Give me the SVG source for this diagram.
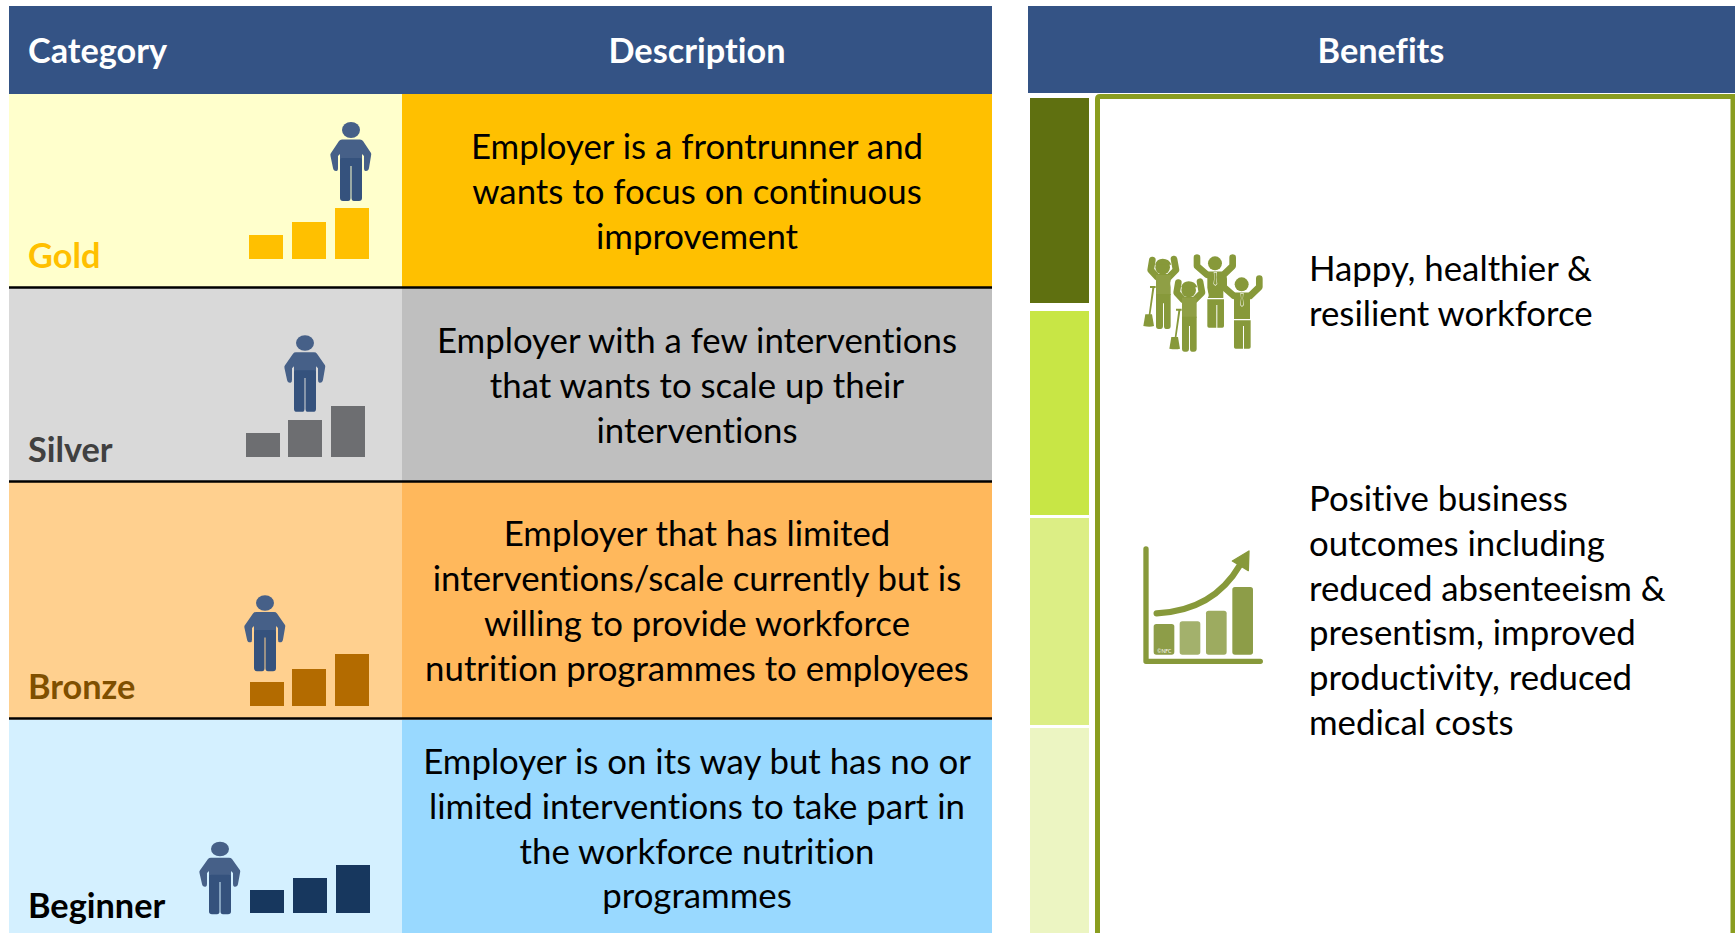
<svg xmlns="http://www.w3.org/2000/svg" width="1735" height="933" viewBox="0 0 1735 933">
<style>
text{font-family:"Lato","Carlito","Liberation Sans",sans-serif;font-variant-ligatures:none}
.h{font-size:34.300px;font-weight:700;fill:#fff}
.c{font-size:34.300px;font-weight:700}
.d{font-size:34.800px;fill:#000;text-anchor:middle}
.b{font-size:34.800px;fill:#000}
.m{text-anchor:middle}
.line{stroke:#000;stroke-width:2.400}
.arm{fill:none;stroke:#87993a;stroke-width:20;stroke-linecap:round;stroke-linejoin:round}
.ol{fill:none;stroke:#fff;stroke-width:28;stroke-linecap:round;stroke-linejoin:round}
.gf{fill:#87993a}
</style>
<defs>
<g id="person">
<ellipse cx="0" cy="0" rx="9" ry="8" fill="#466088"/>
<path d="M-9 9.500H9Q11 9.500 12 11L20 23Q20.500 24 20 26L18 38Q17.500 41 15 41H14.500Q13 41 13 38V26L11 24V30H-11V24L-13 26V38Q-13 41 -14.500 41H-15Q-17.500 41 -18 38L-20.500 26Q-21 24 -20 23L-12 11Q-11 9.500 -9 9.500Z" fill="#466088"/>
<path d="M-11 30Q-11 28 -9 28H9Q11 28 11 30V68Q11 71 8 71H3Q0.500 71 0.500 68V36H-0.500V68Q-0.500 71 -3 71H-8Q-11 71 -11 68Z" fill="#35527d"/>
</g>
<g id="worker">
<circle cx="188" cy="142" r="22" class="gf"/>
<path d="M165 134Q170 116 188 116Q208 116 214 134Z" class="gf"/>
<path d="M157 120L152 150L172 172H206L228 150L222 117" class="arm"/>
<rect x="168" y="165" width="44" height="60" fill="#8f9f45"/>
<path d="M168 222H212V318Q212 327 204 327H198Q192 327 192 318V250H189V318Q189 327 181 327H176Q168 327 168 318Z" class="gf"/>
<path d="M150 198H167V204H163L151 286L146 285L157 204H150Z" class="gf"/>
<path d="M136 283H156L162 318Q150 322 130 318Z" class="gf"/>
</g>
<g id="suit">
<circle cx="345" cy="130" r="21" class="gf"/>
<path d="M291 113V138L322 165H370L398 138V113" class="arm"/>
<path d="M322 155H370V234H322Z" class="gf"/>
<path d="M322 238H372V318Q372 323 367 323H352V255H349V323H327Q322 323 322 318Z" class="gf"/>
<path d="M341 156H351L349 172L352 192L346 198L340 192L343 172Z" fill="#fff" opacity=".85"/>
<path d="M343 158H349L348 172L350 191L346 195L342 191L344 172Z" class="gf"/>
</g>
</defs>

<g id="connectors"></g>

<g id="header-main">
<rect x="9" y="6" width="983" height="88" fill="#345385"/>
<text x="28" y="63" class="h">Category</text>
<text x="697" y="63" class="h m">Description</text>
</g>
<g id="header-benefits">
<rect x="1028" y="6" width="707" height="87" fill="#345385"/>
<text x="1381" y="63" class="h m">Benefits</text>
</g>

<g id="row-gold">
<rect x="9" y="94" width="393" height="193" fill="#ffffcc"/>
<rect x="402" y="94" width="590" height="193" fill="#ffc000"/>
<use href="#person" transform="translate(351 130)"/>
<rect x="249" y="235" width="34" height="24" fill="#ffc000"/>
<rect x="292" y="222" width="34" height="37" fill="#ffc000"/>
<rect x="335" y="208" width="34" height="51" fill="#ffc000"/>
<text x="28" y="268" class="c" fill="#ffc000">Gold</text>
<text x="697" y="159" class="d">Employer is a frontrunner and</text>
<text x="697" y="204" class="d">wants to focus on continuous</text>
<text x="697" y="249" class="d">improvement</text>
</g>
<g id="row-silver">
<rect x="9" y="288" width="393" height="193" fill="#d9d9d9"/>
<rect x="402" y="288" width="590" height="193" fill="#bfbfbf"/>
<use href="#person" transform="translate(305 343) scale(1 .97)"/>
<rect x="246" y="433" width="34" height="24" fill="#6d6e71"/>
<rect x="288" y="420" width="34" height="37" fill="#6d6e71"/>
<rect x="331" y="406" width="34" height="51" fill="#6d6e71"/>
<text x="28" y="462" class="c" fill="#404040">Silver</text>
<text x="697" y="353" class="d">Employer with a few interventions</text>
<text x="697" y="398" class="d">that wants to scale up their</text>
<text x="697" y="443" class="d">interventions</text>
</g>
<g id="row-bronze">
<rect x="9" y="482" width="393" height="236" fill="#ffd08f"/>
<rect x="402" y="482" width="590" height="236" fill="#ffb85c"/>
<use href="#person" transform="translate(265 603) scale(1 .96)"/>
<rect x="250" y="682" width="34" height="24" fill="#b36b00"/>
<rect x="292" y="669" width="34" height="37" fill="#b36b00"/>
<rect x="335" y="654" width="34" height="52" fill="#b36b00"/>
<text x="28" y="699" class="c" fill="#7f4f00">Bronze</text>
<text x="697" y="546" class="d">Employer that has limited</text>
<text x="697" y="591" class="d">interventions/scale currently but is</text>
<text x="697" y="636" class="d">willing to provide workforce</text>
<text x="697" y="681" class="d">nutrition programmes to employees</text>
</g>
<g id="row-beginner">
<rect x="9" y="720" width="393" height="213" fill="#d4f0ff"/>
<rect x="402" y="720" width="590" height="213" fill="#99d9ff"/>
<use href="#person" transform="translate(220 849) scale(1 .92)"/>
<rect x="250" y="890" width="34" height="23" fill="#17375e"/>
<rect x="293" y="878" width="34" height="35" fill="#17375e"/>
<rect x="336" y="865" width="34" height="48" fill="#17375e"/>
<text x="28" y="918" class="c" fill="#000">Beginner</text>
<text x="697" y="774" class="d">Employer is on its way but has no or</text>
<text x="697" y="819" class="d">limited interventions to take part in</text>
<text x="697" y="864" class="d">the workforce nutrition</text>
<text x="697" y="908" class="d">programmes</text>
</g>
<g id="row-lines">
<line x1="9" y1="287.500" x2="992" y2="287.500" class="line"/>
<line x1="9" y1="481.500" x2="992" y2="481.500" class="line"/>
<line x1="9" y1="718.500" x2="992" y2="718.500" class="line"/>
</g>

<g id="benefit-scale">
<rect x="1030" y="98" width="59" height="205" fill="#5f7010"/>
<rect x="1030" y="311" width="59" height="204" fill="#c8e645"/>
<rect x="1030" y="518" width="59" height="207" fill="#dcee85"/>
<rect x="1030" y="728" width="59" height="205" fill="#ecf5c2"/>
</g>
<g id="benefit-panel">
<path d="M1097.500 945V99Q1097.500 96.500 1100 96.500H1740" fill="none" stroke="#8a9d1f" stroke-width="5"/>
<path d="M1733 96.500V945" fill="none" stroke="#8a9d1f" stroke-width="5"/>
</g>
<g id="icon-people" transform="translate(1100 220) scale(.3333)">
<use href="#worker"/>
<use href="#suit"/>
<use href="#suit" transform="translate(80 63)"/>
<path d="M225 190L232 225L250 240H290L312 225L303 188" class="ol"/>
<use href="#worker" transform="translate(78 68)"/>
</g>
<g id="icon-chart" transform="translate(1100 520) scale(.3333)">
<path d="M138 87V424H481" fill="none" stroke="#87993a" stroke-width="16" stroke-linecap="round" stroke-linejoin="round"/>
<rect x="161" y="312" width="62" height="92" rx="8" fill="#8d9d48"/>
<rect x="239" y="304" width="62" height="100" rx="8" fill="#a3b16c"/>
<rect x="318" y="272" width="62" height="132" rx="8" fill="#9dab60"/>
<rect x="397" y="201" width="62" height="203" rx="8" fill="#8d9d48"/>
<path d="M170 280Q340 272 420 135" fill="none" stroke="#87993a" stroke-width="19" stroke-linecap="round"/>
<path d="M447 93L397 123L445 152Z" fill="#87993a" stroke="#87993a" stroke-width="4" stroke-linejoin="round"/>
<text x="193" y="399" font-size="15" fill="#fff" class="m">©NFC</text>
</g>
<g id="benefit-text">
<text x="1309" y="281" class="b">Happy, healthier &amp;</text>
<text x="1309" y="326" class="b">resilient workforce</text>
<text x="1309" y="511" class="b">Positive business</text>
<text x="1309" y="556" class="b">outcomes including</text>
<text x="1309" y="601" class="b">reduced absenteeism &amp;</text>
<text x="1309" y="645" class="b">presentism, improved</text>
<text x="1309" y="690" class="b">productivity, reduced</text>
<text x="1309" y="735" class="b">medical costs</text>
</g>
</svg>
